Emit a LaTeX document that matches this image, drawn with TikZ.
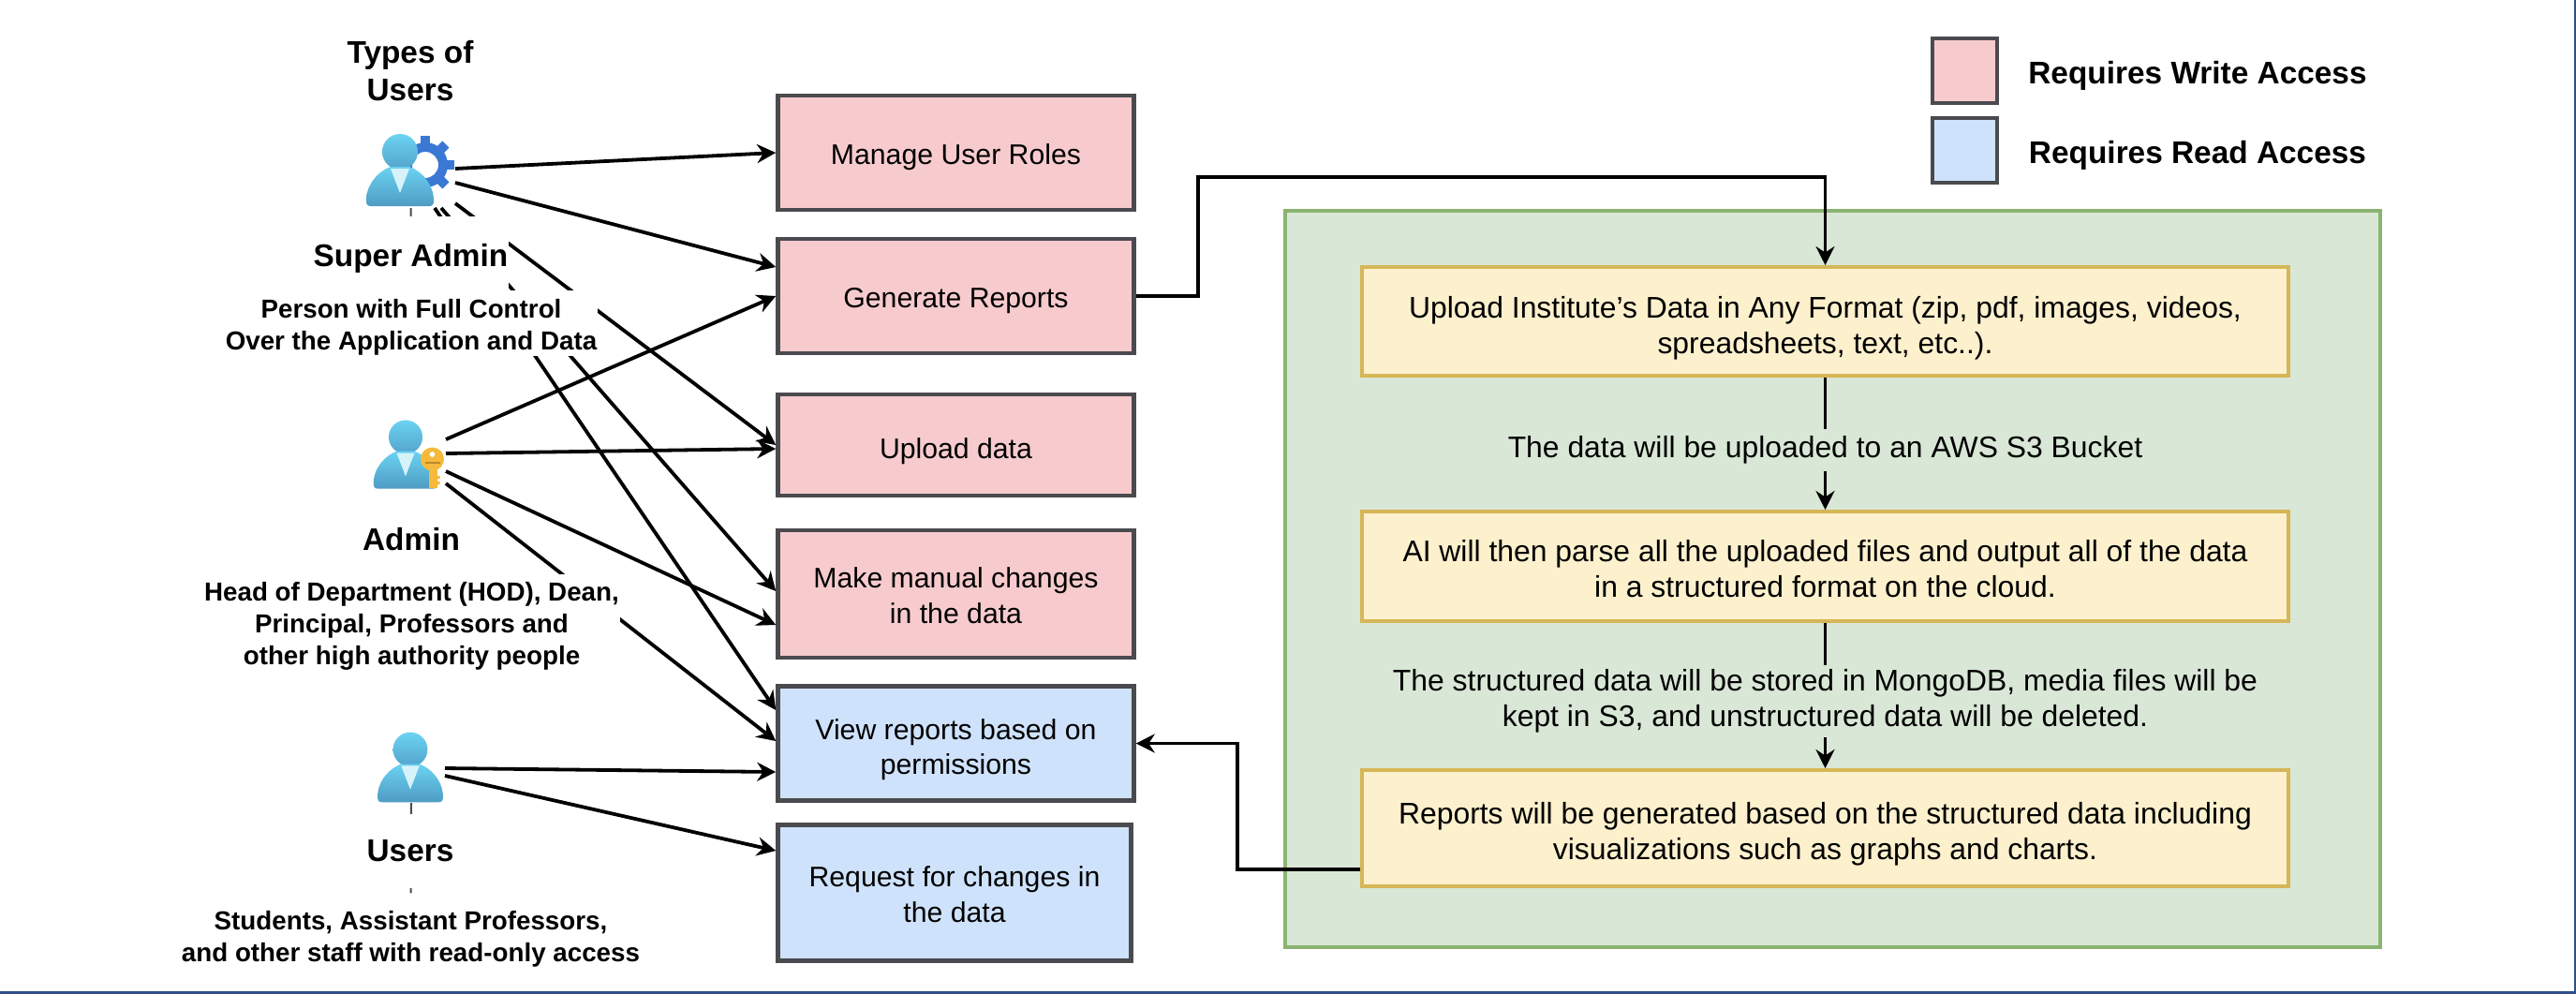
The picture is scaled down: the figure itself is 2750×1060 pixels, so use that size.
\documentclass[tikz,border=0pt]{standalone}
\usepackage{fontspec}
\setmainfont{Liberation Sans}
\usetikzlibrary{arrows.meta, backgrounds, calc}
\definecolor{wpink}{HTML}{F7CBCD}
\definecolor{rblue}{HTML}{CFE2FB}
\definecolor{pgreen}{HTML}{D9E7D6}
\definecolor{pgreenedge}{HTML}{8BB371}
\definecolor{pyellow}{HTML}{FCF0CD}
\definecolor{pyellowedge}{HTML}{D6B656}
\definecolor{boxedge}{HTML}{4A4A4F}
\definecolor{iconhi}{HTML}{6BD3F2}
\definecolor{iconlo}{HTML}{4F9BC4}
\definecolor{iconcollar}{HTML}{D6F3FA}
\definecolor{geartone}{HTML}{3A78D4}
\definecolor{keytone}{HTML}{F5B93B}
\definecolor{framenavy}{HTML}{2F4F86}
\newcommand{\regfont}{\fontsize{8.6}{10.7}\selectfont}
\newcommand{\flowfont}{\fontsize{9.07}{10.9}\selectfont}
\newcommand{\descfont}{\bfseries\fontsize{7.9}{9.7}\selectfont}
\newcommand{\headfont}{\bfseries\fontsize{9.5}{11.4}\selectfont}
% text set a little below the middle of its node
\newcommand{\lowered}[2]{\raisebox{-#1}[\height][\depth]{\begin{tabular}{@{}c@{}}#2\end{tabular}}}
\tikzstyle{box}=[draw=boxedge, line width=.45mm, minimum width=38mm, inner sep=0pt, align=center, font=\regfont]
\tikzstyle{flowbox}=[draw=pyellowedge, fill=pyellow, line width=.4mm, minimum width=98.9cm/10, inner sep=0pt, align=center, font=\flowfont]
\tikzstyle{flowlabel}=[fill=pgreen, inner xsep=0pt, inner ysep=0pt, align=center, font=\flowfont]
\tikzstyle{userlabel}=[fill=white, inner xsep=.1mm, inner ysep=0pt, align=center, font=\headfont]
\tikzstyle{userdesc}=[fill=white, inner xsep=.1mm, inner ysep=0pt, align=center, font=\descfont]
\tikzstyle{iconspot}=[inner sep=0pt, outer sep=0pt]
\tikzstyle{link}=[draw=black, line width=.38mm, -{Stealth[length=2mm, width=2mm]}]
\tikzstyle{stub}=[draw=black!70, line width=.2mm]
\tikzset{
  personicon/.pic={
    \shade[top color=iconhi, bottom color=iconlo!85!iconhi] (0,0) circle (19);
    \shade[top color=iconhi, bottom color=iconlo] (-31,58) .. controls (-35,58) and (-36,56) .. (-36,52)
      .. controls (-36,34) and (-22,20) .. (-10,16) -- (10,16)
      .. controls (22,20) and (36,34) .. (36,52) .. controls (36,56) and (35,58) .. (31,58) -- cycle;
    \fill[iconcollar] (-10,18) -- (10,18) -- (0,44) -- cycle;
  },
  gearicon/.pic={
    \foreach \a in {0,45,...,315}
      \fill[geartone, rotate=\a] (20,-5) rectangle (31,5);
    \fill[geartone, even odd rule] (0,0) circle (24) (0,0) circle (14);
  },
  keyicon/.pic={
    \fill[keytone] (-4,0) rectangle (5,31);
    \fill[keytone] (5,18) rectangle (8,21) (5,24) rectangle (8,27);
    \fill[keytone, even odd rule] (0,0) circle (12.5) (0,-5) circle (3);
    \fill[keytone!75!black] (-8,3) rectangle (8,5);
  }
}

\begin{document}
\begin{tikzpicture}[x=.1mm, y=-.1mm]
\useasboundingbox (0,0) rectangle (2750,1060);

% frame of the page
\draw[framenavy, line width=.3mm] (0,1059) -- (2750,1059);
\draw[framenavy, line width=.3mm] (2749,0) -- (2749,1060);

% legend
\node[box, fill=wpink, minimum width=6.9mm, minimum height=6.9mm] (legwrite) at (2097.5,75.5) {};
\node[box, fill=rblue, minimum width=6.9mm, minimum height=6.9mm] (legread) at (2097.5,160.5) {};
\node[inner sep=0pt, font=\headfont] (legwritetxt) at (2346,81) {Requires Write Access};
\node[inner sep=0pt, font=\headfont] (legreadtxt) at (2346,166) {Requires Read Access};

% access boxes
\node[box, fill=wpink, minimum height=12.2mm] (manage) at (1020.5,163) {\lowered{.5mm}{Manage User Roles}};
\node[box, fill=wpink, minimum height=12.2mm] (gen) at (1020.5,316) {\lowered{.5mm}{Generate Reports}};
\node[box, fill=wpink, minimum height=10.8mm] (upload) at (1020.5,475) {\lowered{.7mm}{Upload data}};
\node[box, fill=wpink, minimum height=13.6mm] (make) at (1020.5,634) {\lowered{.5mm}{Make manual changes\\in the data}};
\node[box, fill=rblue, minimum height=12.2mm] (view) at (1020.5,793.5) {\lowered{.7mm}{View reports based on\\permissions}};
\node[box, fill=rblue, minimum width=37.7mm, minimum height=14.5mm] (request) at (1019,953) {\lowered{.5mm}{Request for changes in\\the data}};

% the process
\node[draw=pgreenedge, fill=pgreen, line width=.4mm, minimum width=116.9cm/10, minimum height=78.6mm, inner sep=0pt] (process) at (1956,618) {};
\node[flowbox, minimum height=11.6mm] (uplbox) at (1948.5,343) {\lowered{.8mm}{Upload Institute's Data in Any Format (zip, pdf, images, videos,\\spreadsheets, text, etc..).}};
\node[flowbox, minimum height=11.7mm] (parsebox) at (1948.5,604.5) {\lowered{.6mm}{AI will then parse all the uploaded files and output all of the data\\in a structured format on the cloud.}};
\node[flowbox, minimum height=12.4mm] (reportbox) at (1948.5,884) {\lowered{.7mm}{Reports will be generated based on the structured data including\\visualizations such as graphs and charts.}};

\draw[link] (uplbox) -- (parsebox);
\draw[link] (parsebox) -- (reportbox);
\node[flowlabel, minimum height=4.5mm] (flowone) at (1948.5,480) {The data will be uploaded to an AWS S3 Bucket};
\node[flowlabel, minimum height=7.7mm] (flowtwo) at (1948.5,748) {The structured data will be stored in MongoDB, media files will be\\kept in S3, and unstructured data will be deleted.};

\draw[link] (gen.east) -- ++(66,0) |- ($(uplbox.north)+(0,-94)$) -- (uplbox.north);
\draw[link] ([yshift=-4.4mm]reportbox.west) -- ++(-131,0) |- (view.east);

% types of users
\node[inner sep=0pt, align=center, font=\headfont] (typeshead) at (438,76) {Types of\\Users};

\node[iconspot, minimum width=9.5mm, minimum height=7.9mm] (sadmin) at (438.5,182.5) {};
\node[iconspot, minimum width=7.6mm, minimum height=7.4mm] (admin) at (438,484) {};
\node[iconspot, minimum width=7.2mm, minimum height=7.6mm] (user) at (439,819) {};
\pic at (454,176) {gearicon};
\pic at (427,162) {personicon};
\pic[scale=.95] at (433,466.5) {personicon};
\pic at (461.5,490) {keyicon};
\pic[scale=.97] at (438,800) {personicon};

\node[userlabel, minimum height=7.9mm] (salabel) at (438.5,270.5) {\lowered{.6mm}{Super Admin}};
\node[userdesc, minimum height=7mm] (sadesc) at (439,345) {\lowered{.5mm}{Person with Full Control\\Over the Application and Data}};
\node[userlabel] (adlabel) at (439,576) {Admin};
\node[userdesc, minimum height=10.5mm] (addesc) at (439.5,665.5) {\lowered{.3mm}{Head of Department (HOD), Dean,\\Principal, Professors and\\other high authority people}};
\node[userlabel, minimum height=7.9mm] (ulabel) at (438,908) {Users};
\node[userdesc, minimum height=9.4mm] (udesc) at (438.5,1001) {\lowered{.2mm}{Students, Assistant Professors,\\and other staff with read-only access}};

% who may do what
\begin{scope}[on background layer]
\draw[stub] (sadmin.south) -- (sadesc.north);
\draw[stub] (user.south) -- (udesc.north);
\draw[link] ([yshift=.25mm]sadmin.east) -- (manage.west);
\draw[link] ([yshift=-1.25mm]sadmin.east) -- ([yshift=3.1mm]gen.west);
\draw[link] ([yshift=-3.45mm]sadmin.east) -- (upload.west);
\draw[link] ([xshift=3.25mm]sadmin.south) -- ([yshift=.3mm]make.west);
\draw[link] ([xshift=2.55mm]sadmin.south) -- ([yshift=3.55mm]view.west);
\draw[link] ([yshift=1.5mm]admin.east) -- (gen.west);
\draw[link] (admin.east) -- ([yshift=-.4mm]upload.west);
\draw[link] ([yshift=-1.9mm]admin.east) -- ([yshift=-3.3mm]make.west);
\draw[link] ([yshift=-3.2mm]admin.east) -- ([yshift=.25mm]view.west);
\draw[link] ([yshift=-.1mm]user.east) -- ([yshift=-3.05mm]view.west);
\draw[link] ([yshift=-.9mm]user.east) -- ([yshift=4.5mm]request.west);
\end{scope}
\end{tikzpicture}
\end{document}
